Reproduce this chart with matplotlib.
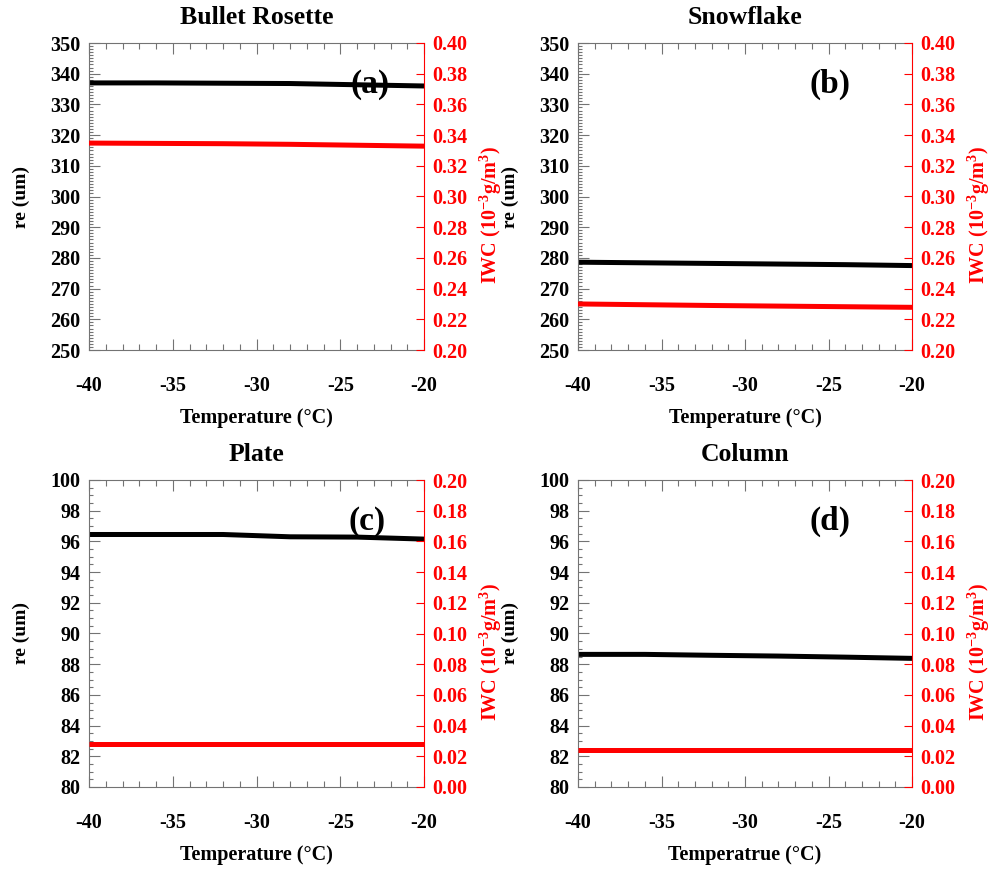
import numpy as np
import matplotlib
matplotlib.use('Agg')
import matplotlib.pyplot as plt
from matplotlib.ticker import MultipleLocator

plt.rcParams['font.family'] = 'serif'
plt.rcParams['font.serif'] = ['Liberation Serif', 'DejaVu Serif']
plt.rcParams['font.weight'] = 'bold'
plt.rcParams['axes.unicode_minus'] = False
plt.rcParams['mathtext.fontset'] = 'custom'
plt.rcParams['mathtext.rm'] = 'Liberation Serif:bold'
plt.rcParams['mathtext.it'] = 'Liberation Serif:bold'
plt.rcParams['mathtext.bf'] = 'Liberation Serif:bold'

# temperature grid (deg C)
temp = [-40, -36, -32, -28, -24, -20]

# effective radius (um) and ice water content for each habit
re_bullet = [337.0, 337.0, 336.9, 336.8, 336.4, 336.0]
iwc_bullet = [0.3348, 0.3346, 0.3344, 0.3340, 0.3334, 0.3328]
re_snow = [278.6, 278.4, 278.2, 278.0, 277.8, 277.5]
iwc_snow = [0.2300, 0.2295, 0.2290, 0.2286, 0.2282, 0.2278]
re_plate = [96.45, 96.45, 96.45, 96.30, 96.28, 96.15]
iwc_plate = [0.028, 0.028, 0.028, 0.028, 0.028, 0.028]
re_column = [88.64, 88.64, 88.58, 88.53, 88.46, 88.38]
iwc_column = [0.0241, 0.0241, 0.0241, 0.0241, 0.0241, 0.0241]

titles = ['Bullet Rosette', 'Snowflake', 'Plate', 'Column']
letters = ['(a)', '(b)', '(c)', '(d)']
xlabels = ['Temperature (°C)', 'Temperature (°C)', 'Temperature (°C)', 'Temperatrue (°C)']
re_data = [re_bullet, re_snow, re_plate, re_column]
iwc_data = [iwc_bullet, iwc_snow, iwc_plate, iwc_column]
re_lims = [(250, 350), (250, 350), (80, 100), (80, 100)]
iwc_lims = [(0.20, 0.40), (0.20, 0.40), (0.00, 0.20), (0.00, 0.20)]
re_major = [10, 10, 2, 2]
re_minor = [1, 1, 0.5, 0.5]
letter_x = [0.839, 0.754, 0.83, 0.754]

W, H = 992, 869
fig = plt.figure(figsize=(W/100, H/100), dpi=100)

# axes boxes in pixels: left, right, top, bottom
boxes = [(89, 424, 43, 350), (578, 912, 43, 350),
         (89, 424, 480, 787), (578, 912, 480, 787)]

gray = '0.45'
for i in range(4):
    l, r, t, b = boxes[i]
    ax = fig.add_axes([l/W, 1-b/H, (r-l)/W, (b-t)/H])
    ax2 = ax.twinx()

    ax.plot(temp, re_data[i], color='black', lw=3.6, solid_capstyle='butt')
    ax2.plot(temp, iwc_data[i], color='red', lw=3.6, solid_capstyle='butt')

    ax.set_xlim(-40, -20)
    ax.set_ylim(*re_lims[i])
    ax2.set_ylim(*iwc_lims[i])

    ax.xaxis.set_major_locator(MultipleLocator(5))
    ax.xaxis.set_minor_locator(MultipleLocator(1))
    ax.yaxis.set_major_locator(MultipleLocator(re_major[i]))
    ax.yaxis.set_minor_locator(MultipleLocator(re_minor[i]))
    ax2.yaxis.set_major_locator(MultipleLocator(0.02))
    ax2.yaxis.set_major_formatter(plt.FormatStrFormatter('%.2f'))

    ax.tick_params(axis='x', which='both', direction='in', top=True,
                   color=gray, width=0.8, labelsize=14.5, pad=19)
    ax.tick_params(axis='x', which='major', length=8)
    ax.tick_params(axis='x', which='minor', length=4)
    ax.tick_params(axis='y', which='both', direction='in', right=False,
                   color=gray, width=0.8, labelsize=14.5, pad=6)
    ax.tick_params(axis='y', which='major', length=8)
    ax.tick_params(axis='y', which='minor', length=3)
    ax2.tick_params(axis='y', which='both', direction='in', color='red',
                    labelcolor='red', width=0.8, length=6, labelsize=14.5, pad=6)

    for s in ['top', 'bottom', 'left']:
        ax.spines[s].set_color(gray)
        ax.spines[s].set_linewidth(0.8)
        ax2.spines[s].set_visible(False)
    ax.spines['right'].set_visible(False)
    ax2.spines['right'].set_color('red')
    ax2.spines['right'].set_linewidth(0.8)

    # keep the end labels inside the axis box
    ylab = ax.get_yticklabels()
    ylab[0].set_va('bottom')
    ylab[-1].set_va('top')
    ylab2 = ax2.get_yticklabels()
    ylab2[0].set_va('bottom')
    ylab2[-1].set_va('top')

    ax.set_ylabel('re (um)', fontsize=14, fontweight='bold')
    ax.yaxis.set_label_coords(-0.176, 0.5)
    ax2.set_ylabel('IWC (10$^{-3}$g/m$^{3}$)', fontsize=14.5, color='red',
                   fontweight='bold')
    ax2.yaxis.set_label_coords(1.16, 0.44)
    ax.set_xlabel(xlabels[i], fontsize=14.5, fontweight='bold')
    ax.xaxis.set_label_coords(0.5, -0.19)

    ax.text(0.5, 1.082, titles[i], transform=ax.transAxes, ha='center',
            va='center', fontsize=18.5, fontweight='bold')
    ax.text(letter_x[i], 0.866, letters[i], transform=ax.transAxes,
            ha='center', va='center', fontsize=24, fontweight='bold')

fig.savefig('out.png', dpi=100)
